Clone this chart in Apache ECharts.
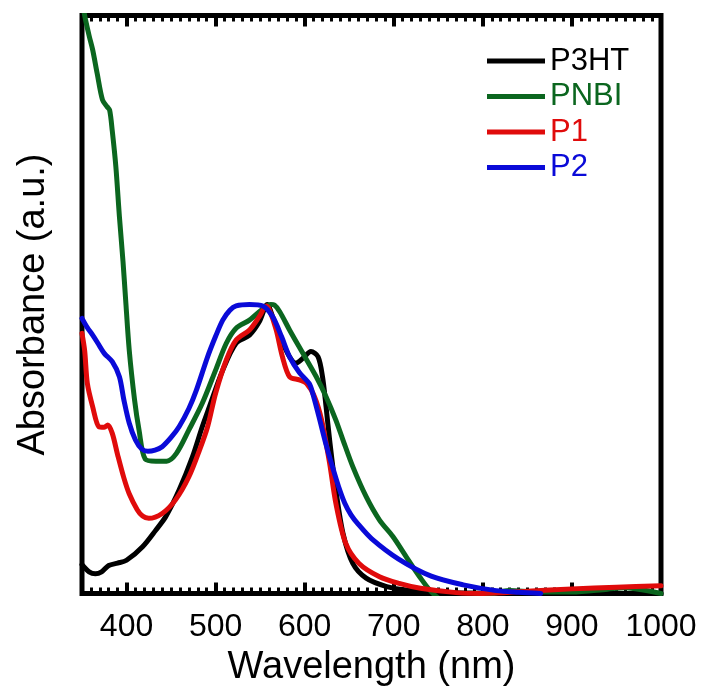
<!DOCTYPE html>
<html><head><meta charset="utf-8">
<script src="https://cdn.jsdelivr.net/npm/echarts@6/dist/echarts.min.js"></script>
<style>html,body{margin:0;padding:0;background:#fff}#c{width:702px;height:686px}</style>
</head><body><div id="c"></div>
<script>
// ---- data ----
const seriesNames = ['P3HT', 'PNBI', 'P1', 'P2'];
const xMajorTicks = [400, 500, 600, 700, 800, 900, 1000];

const p3htX = [350, 358, 365, 372, 380, 390, 400, 418, 433, 444, 459, 474, 485, 493, 508, 523, 538, 549, 558, 564, 574, 583, 590, 598, 607, 615, 620, 624, 628, 635, 643, 654, 669, 692, 714, 740, 780, 850, 1000];
const p3htY = [0.100, 0.075, 0.068, 0.075, 0.097, 0.105, 0.115, 0.162, 0.220, 0.266, 0.358, 0.473, 0.577, 0.646, 0.773, 0.866, 0.894, 0.940, 1.000, 0.958, 0.877, 0.819, 0.797, 0.814, 0.837, 0.819, 0.750, 0.646, 0.531, 0.358, 0.208, 0.104, 0.053, 0.024, 0.012, 0.005, 0.002, 0.000, 0.000];

const pnbiX = [350, 353, 358, 362, 367, 373, 378, 381, 384, 388, 392, 396, 399, 403, 409, 414, 421, 433, 445, 456, 470, 485, 500, 512, 523, 538, 549, 562, 566, 572, 583, 598, 613, 624, 635, 643, 654, 669, 684, 699, 714, 729, 744, 760, 800, 830, 860, 900, 940, 960, 980, 1000];
const pnbiY = [2.06, 2.00, 1.93, 1.881, 1.800, 1.708, 1.685, 1.673, 1.600, 1.477, 1.304, 1.150, 1.016, 0.843, 0.670, 0.566, 0.465, 0.458, 0.458, 0.485, 0.566, 0.658, 0.773, 0.866, 0.918, 0.946, 0.975, 1.000, 0.998, 0.975, 0.912, 0.831, 0.750, 0.681, 0.600, 0.531, 0.439, 0.335, 0.254, 0.197, 0.127, 0.058, 0.000, -0.030, -0.010, 0.010, 0.005, 0.005, 0.015, 0.020, 0.012, 0.000];

const p1X = [350, 353, 356, 362, 369, 375, 379, 384, 390, 397, 403, 412, 418, 425, 440, 455, 470, 482, 491, 500, 512, 523, 538, 549, 557, 560, 568, 575, 583, 594, 602, 611, 619, 628, 635, 646, 661, 684, 706, 730, 770, 800, 850, 900, 950, 1000];
const p1Y = [0.900, 0.840, 0.727, 0.646, 0.577, 0.575, 0.583, 0.554, 0.480, 0.400, 0.345, 0.290, 0.268, 0.260, 0.277, 0.324, 0.404, 0.497, 0.577, 0.693, 0.808, 0.877, 0.912, 0.958, 0.995, 0.985, 0.912, 0.819, 0.750, 0.739, 0.727, 0.681, 0.600, 0.450, 0.312, 0.174, 0.104, 0.058, 0.035, 0.018, 0.003, 0.000, 0.008, 0.016, 0.022, 0.027];

const p2X = [350, 356, 362, 368, 375, 384, 392, 397, 403, 410, 417, 424, 432, 440, 450, 459, 470, 478, 491, 500, 508, 516, 523, 538, 553, 564, 574, 583, 594, 605, 609, 616, 624, 631, 638, 645, 652, 660, 675, 705, 742, 778, 815, 840, 865];
const p2Y = [0.952, 0.920, 0.894, 0.865, 0.831, 0.802, 0.750, 0.670, 0.590, 0.531, 0.500, 0.492, 0.496, 0.508, 0.540, 0.577, 0.640, 0.700, 0.819, 0.890, 0.946, 0.980, 0.995, 1.000, 0.995, 0.958, 0.889, 0.819, 0.765, 0.727, 0.693, 0.612, 0.515, 0.440, 0.370, 0.312, 0.272, 0.240, 0.190, 0.120, 0.060, 0.030, 0.010, 0.004, 0.000];

// ---- styles ----
const colors = ['#000000', '#0b661f', '#e00b0b', '#0a0ad8'];
const FONT = "'Liberation Sans', Arial, Helvetica, sans-serif";

function pairs(xs, ys) { return xs.map((x, i) => [x, ys[i]]); }
const allX = [p3htX, pnbiX, p1X, p2X];
const allY = [p3htY, pnbiY, p1Y, p2Y];

const chart = echarts.init(document.getElementById('c'), null, { renderer: 'canvas' });

const gridBox = { left: 82, right: 41, top: 15.5, bottom: 92.5, outerBoundsMode: 'none', containLabel: false };

const option = {
  animation: false,
  backgroundColor: '#ffffff',
  grid: [
    Object.assign({ show: true, borderColor: '#000', borderWidth: 5, backgroundColor: 'transparent' }, gridBox),
    Object.assign({ show: false }, gridBox)
  ],
  legend: {
    orient: 'vertical',
    left: 487,
    top: 45.5,
    padding: 0,
    itemWidth: 58,
    itemHeight: 5,
    itemGap: 4.5,
    icon: 'rect',
    selectedMode: false,
    textStyle: { fontFamily: FONT, fontSize: 31 },
    data: seriesNames.map((n, i) => ({ name: n, icon: 'rect', itemStyle: { color: colors[i] }, textStyle: { color: colors[i], fontSize: 31, fontFamily: FONT } }))
  },
  xAxis: [
    {
      type: 'value', gridIndex: 0, position: 'bottom', min: 350, max: 1000, splitNumber: 6,
      axisLine: { show: false },
      axisTick: { show: true, inside: true, length: 11, lineStyle: { color: '#000', width: 4 } },
      axisLabel: {
        show: true, margin: 18, color: '#000', fontSize: 32, fontFamily: FONT,
        formatter: v => (xMajorTicks.indexOf(v) >= 0 ? String(v) : '')
      },
      splitLine: { show: false },
      name: 'Wavelength (nm)', nameLocation: 'middle', nameGap: 53.5,
      nameTextStyle: { color: '#000', fontSize: 38, fontFamily: FONT }
    },
    {
      type: 'value', gridIndex: 0, position: 'top', min: 350, max: 1000, splitNumber: 6,
      axisLine: { show: false },
      axisTick: { show: true, inside: true, length: 11, lineStyle: { color: '#000', width: 4 } },
      axisLabel: { show: false }, splitLine: { show: false }
    },
    {
      type: 'value', gridIndex: 1, position: 'bottom', min: 350, max: 1000, interval: 10,
      axisLine: { show: false },
      axisTick: { show: true, inside: true, length: 6, lineStyle: { color: '#000', width: 3 } },
      axisLabel: { show: false }, splitLine: { show: false }
    },
    {
      type: 'value', gridIndex: 1, position: 'top', min: 350, max: 1000, interval: 10,
      axisLine: { show: false },
      axisTick: { show: true, inside: true, length: 6, lineStyle: { color: '#000', width: 3 } },
      axisLabel: { show: false }, splitLine: { show: false }
    }
  ],
  yAxis: [
    {
      type: 'value', gridIndex: 0, min: 0, max: 2,
      axisLine: { show: false }, axisTick: { show: false }, axisLabel: { show: false }, splitLine: { show: false },
      name: 'Absorbance (a.u.)', nameLocation: 'middle', nameGap: 29,
      nameTextStyle: { color: '#000', fontSize: 38, fontFamily: FONT }
    },
    {
      type: 'value', gridIndex: 1, min: 0, max: 2,
      axisLine: { show: false }, axisTick: { show: false }, axisLabel: { show: false }, splitLine: { show: false }
    }
  ],
  series: seriesNames.map((n, i) => ({
    name: n,
    type: 'line',
    xAxisIndex: 0,
    yAxisIndex: 0,
    data: pairs(allX[i], allY[i]),
    showSymbol: false,
    symbol: 'none',
    smooth: 0.3,
    clip: true,
    color: colors[i],
    lineStyle: { color: colors[i], width: 5, cap: 'round', join: 'round' },
    z: 2 + i
  }))
};
chart.setOption(option);
</script>
</body></html>
